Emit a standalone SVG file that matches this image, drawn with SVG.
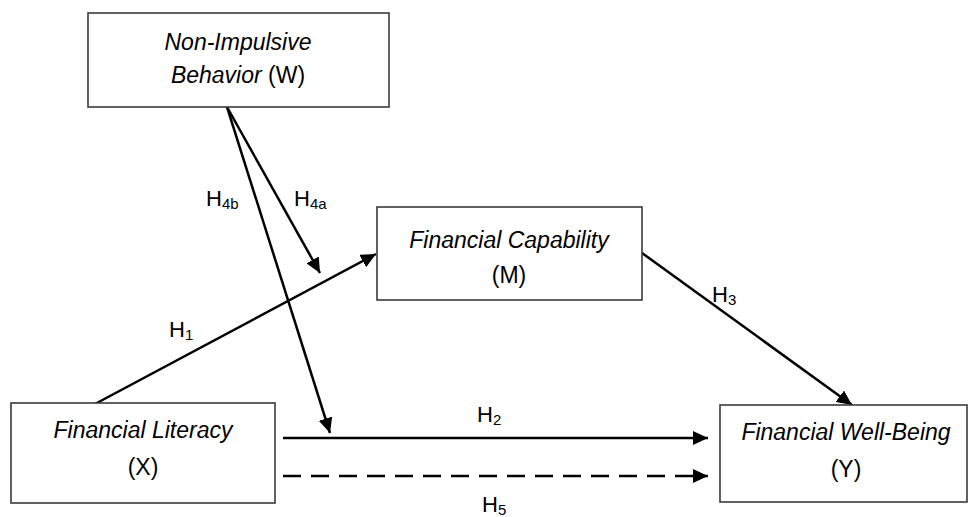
<svg xmlns="http://www.w3.org/2000/svg" width="972" height="517" viewBox="0 0 972 517">
<defs>
<marker id="ah" markerUnits="userSpaceOnUse" markerWidth="16" markerHeight="14" refX="15" refY="7" orient="auto">
<path d="M0,0 L15,7 L0,14 z" fill="#000"/>
</marker>
<style>
.box{fill:#fff;stroke:#3a3a3a;stroke-width:1.6}
.t{font-family:"Liberation Sans",Arial,sans-serif;font-size:23px;fill:#000;text-anchor:middle}
.i{font-style:italic}
.lbl{font-family:"Liberation Sans",Arial,sans-serif;font-size:22px;fill:#000}
.sub{font-size:15px}
.c{stroke:#000;stroke-width:2.5;fill:none;marker-end:url(#ah)}
</style>
</defs>
<rect width="972" height="517" fill="#fff"/>
<g id="connectors">
<line class="c" x1="227" y1="107" x2="320" y2="273"/>
<line class="c" x1="227" y1="107" x2="330" y2="433"/>
<line class="c" x1="95" y1="404" x2="376" y2="254"/>
<line class="c" x1="642" y1="253" x2="852" y2="405"/>
<line class="c" x1="283" y1="438" x2="708" y2="438"/>
<line class="c" x1="283" y1="476" x2="708" y2="476" stroke-dasharray="18 10"/>
</g>
<g id="labels">
<text class="lbl" x="206" y="206">H<tspan class="sub" dy="3">4b</tspan></text>
<text class="lbl" x="294" y="206">H<tspan class="sub" dy="3">4a</tspan></text>
<text class="lbl" x="169" y="337">H<tspan class="sub" dy="3">1</tspan></text>
<text class="lbl" x="477" y="422">H<tspan class="sub" dy="3">2</tspan></text>
<text class="lbl" x="712" y="302">H<tspan class="sub" dy="3">3</tspan></text>
<text class="lbl" x="482" y="512">H<tspan class="sub" dy="3">5</tspan></text>
</g>
<g id="node-W">
<rect class="box" x="88" y="13" width="301" height="94"/>
<text class="t i" x="238" y="50">Non-Impulsive</text>
<text class="t" x="238" y="83"><tspan font-style="italic">Behavior</tspan> (W)</text>
</g>
<g id="node-M">
<rect class="box" x="377" y="207" width="265" height="93"/>
<text class="t i" x="509" y="248">Financial Capability</text>
<text class="t" x="509" y="283">(M)</text>
</g>
<g id="node-X">
<rect class="box" x="11" y="403" width="264" height="100"/>
<text class="t i" x="143" y="438">Financial Literacy</text>
<text class="t" x="143" y="475">(X)</text>
</g>
<g id="node-Y">
<rect class="box" x="720" y="405" width="247" height="97"/>
<text class="t i" x="846" y="440">Financial Well-Being</text>
<text class="t" x="846" y="477">(Y)</text>
</g>
</svg>
